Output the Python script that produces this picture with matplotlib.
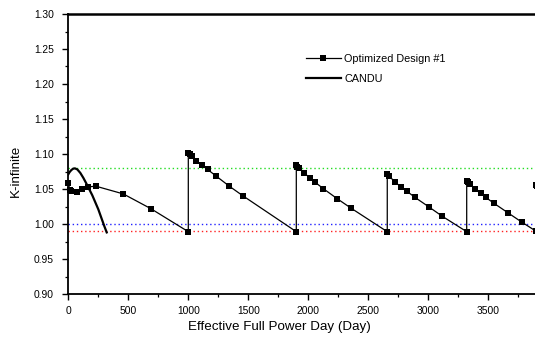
import matplotlib
matplotlib.use("Agg")
import matplotlib.pyplot as plt
from matplotlib.ticker import MultipleLocator, FormatStrFormatter
from matplotlib.lines import Line2D

plt.rcParams['font.family'] = ['Liberation Sans', 'DejaVu Sans']

# Optimized Design #1 (EFPD, k-inf)
design_x = [0, 12, 25, 70, 112, 162, 230, 458, 687, 1000,
            1000, 1012, 1028, 1068, 1112, 1160, 1228, 1342, 1453, 1900,
            1900, 1910, 1925, 1967, 2014, 2058, 2125, 2242, 2353, 2658,
            2658, 2675, 2723, 2773, 2820, 2889, 3006, 3117, 3320,
            3320, 3333, 3348, 3389, 3437, 3478, 3548, 3662, 3778, 3895,
            3895, 3910]
design_k = [1.059, 1.049, 1.047, 1.046, 1.050, 1.053, 1.054, 1.043, 1.022, 0.989,
            1.102, 1.100, 1.097, 1.0905, 1.084, 1.078, 1.069, 1.054, 1.0405, 0.989,
            1.084, 1.082, 1.0795, 1.0724, 1.066, 1.0595, 1.0505, 1.036, 1.023, 0.989,
            1.0714, 1.0686, 1.0595, 1.0533, 1.047, 1.038, 1.0243, 1.011, 0.989,
            1.0612, 1.0595, 1.057, 1.0496, 1.0438, 1.0381, 1.0295, 1.0162, 1.0028, 0.990,
            1.0557, 1.054]

# CANDU curve
candu_x = [0, 10, 25, 40, 55, 75, 100, 125, 150, 200, 250, 300, 320]
candu_k = [1.071, 1.074, 1.077, 1.079, 1.0795, 1.078, 1.073, 1.066, 1.058, 1.041, 1.021, 0.997, 0.988]

# Reference levels
green_level = 1.08
blue_level = 1.00
red_level = 0.99

W, H = 535, 342
fig = plt.figure(figsize=(W / 100, H / 100), dpi=100)
left_px, right_px, top_px, bot_px = 68.3, 548.3, 14, 294
ax = fig.add_axes([left_px / W, (H - bot_px) / H, (right_px - left_px) / W, (bot_px - top_px) / H])

ax.set_xlim(0, 4000)
ax.set_ylim(0.90, 1.30)

xmax = 4000
ax.plot([0, xmax], [green_level] * 2, color='#22dd22', lw=1.0, linestyle=(0, (1, 2)))
ax.plot([0, xmax], [blue_level] * 2, color='#2222ff', lw=1.0, linestyle=(0, (1, 2)))
ax.plot([0, xmax], [red_level] * 2, color='#ff2222', lw=1.0, linestyle=(0, (1, 2)))

ax.plot(design_x, design_k, color='black', lw=0.9, marker='s', markersize=3.8,
        markeredgewidth=0, clip_on=False)
ax.plot(candu_x, candu_k, color='black', lw=1.6)

for s in ['left', 'bottom']:
    ax.spines[s].set_linewidth(1.3)
ax.spines['top'].set_linewidth(1.8)
ax.spines['right'].set_visible(False)

ax.xaxis.set_major_locator(MultipleLocator(500))
ax.xaxis.set_minor_locator(MultipleLocator(250))
ax.yaxis.set_major_locator(MultipleLocator(0.05))
ax.yaxis.set_minor_locator(MultipleLocator(0.025))
ax.yaxis.set_major_formatter(FormatStrFormatter('%.2f'))
ax.tick_params(which='major', direction='out', length=4.5, width=1.0, labelsize=7.4, pad=4.5)
ax.tick_params(which='minor', direction='out', length=2.3, width=0.9)
ax.tick_params(axis='y', which='major', pad=6)
ax.set_xticks([0, 500, 1000, 1500, 2000, 2500, 3000, 3500])

fig.text(16 / W, 1 - 171 / H, 'K-infinite', rotation=90, ha='center', va='center', fontsize=9.6)
fig.text(279 / W, 1 - 327 / H, 'Effective Full Power Day (Day)', ha='center', va='center', fontsize=9.6)

handles = [Line2D([], [], color='black', lw=0.9, marker='s', markersize=3.8, markeredgewidth=0),
           Line2D([], [], color='black', lw=1.6)]
fig.legend(handles, ['Optimized Design #1', 'CANDU'], loc='upper left',
           bbox_to_anchor=(306 / W, 1 - 53.5 / H), frameon=False, fontsize=7.8,
           handlelength=3.2, handletextpad=0.35, labelspacing=0.95, borderaxespad=0, borderpad=0)

fig.savefig('out.png', dpi=100)
